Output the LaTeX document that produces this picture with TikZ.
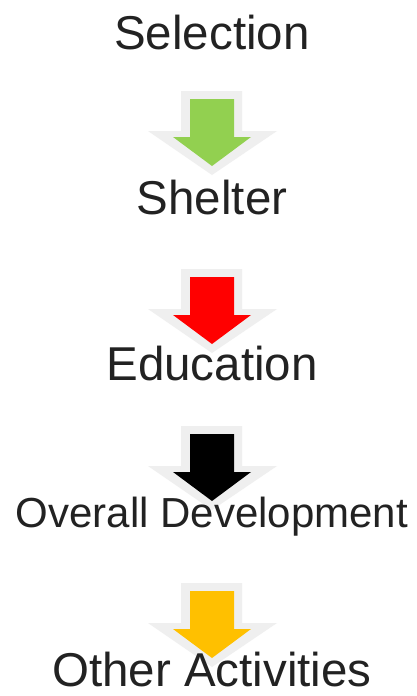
\documentclass[tikz,border=0pt]{standalone}
\usepackage{fontspec}
\setmainfont{Liberation Sans}
\definecolor{txt}{HTML}{222222}
\definecolor{halo}{HTML}{EFEFEF}
\definecolor{agreen}{HTML}{92D050}
\definecolor{ared}{HTML}{FF0000}
\definecolor{ablack}{HTML}{000000}
\definecolor{ayellow}{HTML}{FFC000}
\begin{document}
\begin{tikzpicture}[x=1pt,y=-1pt,
  label/.style={anchor=base,inner sep=0pt,text=txt,font=\fontsize{47.5}{50}\selectfont},
  smalllabel/.style={label,font=\fontsize{42}{45}\selectfont},
  blockarrow/.pic={
    \fill[halo] (-31,-8) -- (30,-8) -- (30,32) -- (65,32) -- (0,76) -- (-64,32) -- (-31,32) -- cycle;
    \fill[#1] (-22,0) -- (22,0) -- (22,38) -- (39,38) -- (0,67) -- (-39,38) -- (-22,38) -- cycle;
  }]
\useasboundingbox (0,0) rectangle (417,696);
\fill[white] (0,0) rectangle (417,696);
\coordinate (a1) at (212,99);
\coordinate (a2) at (212,277);
\coordinate (a3) at (212,434);
\coordinate (a4) at (212,591);
\pic at (a1) {blockarrow=agreen};
\pic at (a2) {blockarrow=ared};
\pic at (a3) {blockarrow=ablack};
\pic at (a4) {blockarrow=ayellow};
\node[label] (s1) at (212,49) {Selection};
\node[label] (s2) at (212,214) {Shelter};
\node[label] (s3) at (212,380) {Education};
\node[smalllabel] (s4) at (212,527) {Overall Development};
\node[label] (s5) at (212,686) {Other Activities};
\end{tikzpicture}
\end{document}
